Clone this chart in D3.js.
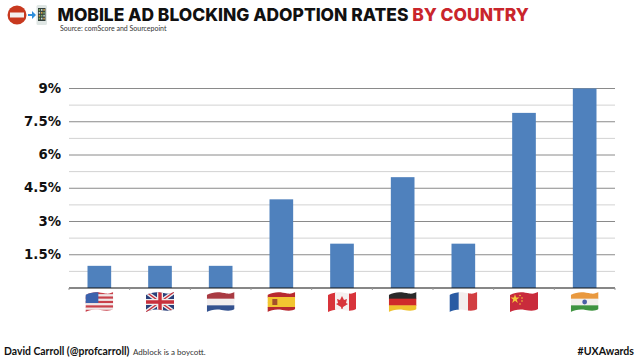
<!DOCTYPE html>
<html>
<head>
<meta charset="utf-8">
<script src="https://cdn.jsdelivr.net/npm/d3@7"></script>
<style>
html, body { margin: 0; padding: 0; background: #fff; }
svg { display: block; }
</style>
</head>
<body>
<svg id="drawing_region"></svg>
<script>
const countries = ["USA", "UK", "Netherlands", "Spain", "Canada", "Germany", "France", "China", "India"];
const rates = [1, 1, 1, 4, 2, 5, 2, 7.9, 9];
const major_ticks = [1.5, 3, 4.5, 6, 7.5, 9];
const minor_ticks = [0.75, 2.25, 3.75, 5.25, 6.75, 8.25];
const tick_labels = ["1.5%", "3%", "4.5%", "6%", "7.5%", "9%"];

const width = 638, height = 359;
const svg = d3.select('#drawing_region').attr('width', width).attr('height', height);

const x = d3.scaleBand().domain(countries).range([69, 615]).paddingInner(0.61).paddingOuter(0.305);
const y = d3.scaleLinear().domain([0, 9]).range([288, 88.5]);

// gridlines
svg.selectAll('.minor').data(minor_ticks).join('line')
    .attr('x1', 69).attr('x2', 615)
    .attr('y1', d => y(d)).attr('y2', d => y(d))
    .attr('stroke', '#d2d2d2').attr('stroke-width', 1);
svg.selectAll('.major').data(major_ticks).join('line')
    .attr('x1', 69).attr('x2', 615)
    .attr('y1', d => y(d)).attr('y2', d => y(d))
    .attr('stroke', '#8a8a8a').attr('stroke-width', 1);

// bars
svg.selectAll('.bar').data(rates).join('rect')
    .attr('x', (d, i) => x(countries[i]))
    .attr('y', d => y(d))
    .attr('width', x.bandwidth())
    .attr('height', d => y(0) - y(d))
    .attr('fill', '#4f81bd');

// baseline
const x_ticks = d3.range(countries.length + 1).map(i => 69 + i * x.step());
svg.append('line').attr('x1', 69).attr('x2', 615).attr('y1', y(0)).attr('y2', y(0))
    .attr('stroke', '#111').attr('stroke-width', 1.2);
svg.selectAll('.xtick').data(x_ticks).join('line')
    .attr('x1', d => d).attr('x2', d => d)
    .attr('y1', y(0)).attr('y2', y(0) + 2)
    .attr('stroke', '#999');

// y labels
svg.selectAll('.ylabel').data(major_ticks).join('text')
    .attr('x', 61).attr('y', d => y(d) + 4)
    .attr('text-anchor', 'end')
    .style('font-family', 'DejaVu Sans')
    .style('font-weight', 'bold')
    .style('font-size', '13.3px')
    .attr('fill', '#111')
    .text((d, i) => tick_labels[i]);

// flags, drawn in a 28x20 box and clipped to a waving cloth
const flag_w = 28, flag_h = 20;
const cloth = 'M0,3 C7,-1 14,0 20,1.5 C24,2 26,1 28,0 L28,17 C25,19 21,19 15,18 C9,17 4,18 0,20 Z';
svg.append('defs').append('clipPath').attr('id', 'cloth').append('path').attr('d', cloth);

function stripes_h(g, colors) {
    const h = flag_h / colors.length;
    colors.forEach((c, i) => g.append('rect').attr('x', 0).attr('y', i * h).attr('width', flag_w).attr('height', h + 0.5).attr('fill', c));
}
function stripes_v(g, colors) {
    const w = flag_w / colors.length;
    colors.forEach((c, i) => g.append('rect').attr('x', i * w).attr('y', 0).attr('width', w + 0.5).attr('height', flag_h).attr('fill', c));
}
const painters = {
    USA: g => {
        stripes_h(g, ['#c8414b', '#f0e8e8', '#c8414b', '#f0e8e8', '#c8414b', '#f0e8e8', '#c8414b', '#f0e8e8', '#c8414b']);
        g.append('rect').attr('width', 13).attr('height', 11).attr('fill', '#3a62ad');
    },
    UK: g => {
        g.append('rect').attr('width', flag_w).attr('height', flag_h).attr('fill', '#2a3f7a');
        g.append('path').attr('d', 'M0,0 L28,20 M28,0 L0,20').attr('stroke', '#eee').attr('stroke-width', 4);
        g.append('path').attr('d', 'M0,0 L28,20 M28,0 L0,20').attr('stroke', '#c8303c').attr('stroke-width', 1.4);
        g.append('path').attr('d', 'M14,0 V20 M0,10 H28').attr('stroke', '#eee').attr('stroke-width', 6);
        g.append('path').attr('d', 'M14,0 V20 M0,10 H28').attr('stroke', '#c8303c').attr('stroke-width', 3.4);
    },
    Netherlands: g => stripes_h(g, ['#a93a42', '#f2eeee', '#34528f']),
    Spain: g => {
        stripes_h(g, ['#b8292f', '#f2c531', '#f2c531', '#b8292f']);
        g.append('rect').attr('x', 5).attr('y', 7).attr('width', 5).attr('height', 6).attr('fill', '#a5502a');
    },
    Canada: g => {
        stripes_v(g, ['#d8343b', '#f5f0f0', '#f5f0f0', '#d8343b']);
        g.append('path').attr('d', 'M14,4 L16,8 L19,7 L18,11 L20,12 L15,15 L14.5,17 L13.5,17 L13,15 L8,12 L10,11 L9,7 L12,8 Z').attr('fill', '#d8343b');
    },
    Germany: g => stripes_h(g, ['#2a2a2a', '#cf2b2b', '#efc22d']),
    France: g => stripes_v(g, ['#2a5ba3', '#f3eeee', '#d23e42']),
    China: g => {
        g.append('rect').attr('width', flag_w).attr('height', flag_h).attr('fill', '#c92b3c');
        g.append('path').attr('d', d3.symbol(d3.symbolStar, 26)()).attr('transform', 'translate(5,7)').attr('fill', '#f3c83c');
        [[10, 3.5], [12, 6], [12, 9], [10, 12]].forEach(p =>
            g.append('circle').attr('cx', p[0]).attr('cy', p[1]).attr('r', 0.8).attr('fill', '#f3c83c'));
    },
    India: g => {
        stripes_h(g, ['#e9993f', '#f3f0ec', '#3f9440']);
        g.append('circle').attr('cx', 14).attr('cy', 10).attr('r', 2.4).attr('fill', '#4a5fa5');
    },
};
const flags = svg.selectAll('.flag').data(countries).join('g')
    .attr('transform', d => `translate(${x(d) + x.bandwidth() / 2 - flag_w / 2}, 292)`)
    .attr('clip-path', 'url(#cloth)');
flags.each(function (d) { painters[d](d3.select(this)); });

// title
const title = svg.append('text').attr('x', 57.5).attr('y', 20.5)
    .style('font-family', 'Inter')
    .style('font-weight', '800')
    .style('font-size', '17.4px');
title.append('tspan').attr('fill', '#111').text('MOBILE AD BLOCKING ADOPTION RATES ');
title.append('tspan').attr('fill', '#c9252c').text('BY COUNTRY');

svg.append('text').attr('x', 60).attr('y', 30.5)
    .style('font-family', 'Lato').style('font-size', '7px').attr('fill', '#333')
    .text('Source: comScore and Sourcepoint');

// icon: no entry, arrow, phone with its key grid
const icon = svg.append('g');
icon.append('circle').attr('cx', 17).attr('cy', 15).attr('r', 9.5).attr('fill', '#c8391f');
icon.append('rect').attr('x', 10).attr('y', 12.5).attr('width', 14).attr('height', 5).attr('fill', '#f4f0ee');
icon.append('path').attr('d', 'M28,14 H32 V11 L36,15 L32,19 V16 H28 Z').attr('fill', '#2f8fdc');
icon.append('rect').attr('x', 36.5).attr('y', 5).attr('width', 10.5).attr('height', 20).attr('rx', 1.5).attr('fill', '#dfe6e4');
icon.append('rect').attr('x', 38).attr('y', 8).attr('width', 7.5).attr('height', 13).attr('fill', '#33403c');
d3.range(4).forEach(r => d3.range(3).forEach(c =>
    icon.append('rect').attr('x', 38.7 + c * 2.3).attr('y', 9 + r * 2.9).attr('width', 1.5).attr('height', 1.8)
        .attr('fill', ['#7fb069', '#c9d6d0', '#d0a24c'][(r + c) % 3])));

// footer
svg.append('text').attr('x', 4).attr('y', 355)
    .style('font-family', 'Lato').style('font-weight', 'bold').style('font-size', '10.4px').attr('fill', '#111')
    .text('David Carroll (@profcarroll)');
svg.append('text').attr('x', 133).attr('y', 355)
    .style('font-family', 'Lato').style('font-size', '8px').attr('fill', '#333')
    .text('Adblock is a boycott.');
svg.append('text').attr('x', 634).attr('y', 355).attr('text-anchor', 'end')
    .style('font-family', 'Lato').style('font-weight', 'bold').style('font-size', '10.6px').attr('fill', '#111')
    .text('#UXAwards');
</script>
</body>
</html>
